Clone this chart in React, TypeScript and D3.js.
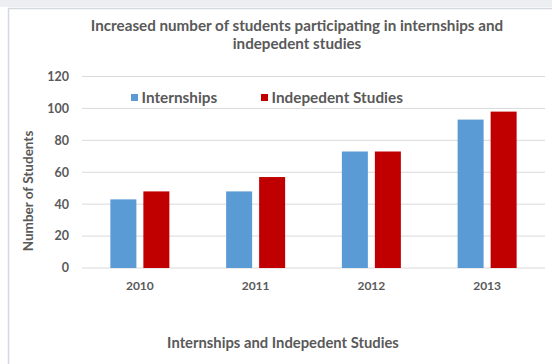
import React from "react";
import * as d3 from "d3";

const categories = ["2010", "2011", "2012", "2013"];
const internships = [43, 48, 73, 93];
const independent = [48, 57, 73, 98];
const seriesNames = ["Internships", "Indepedent Studies"];
const yTicks = [0, 20, 40, 60, 80, 100, 120];
const titleLines = [
  "Increased number of students participating in internships and",
  "indepedent studies",
];
const xTitle = "Internships and Indepedent Studies";
const yTitle = "Number of Students";

const W = 552;
const H = 364;
const colors = ["#5B9BD5", "#C00000"];
const font = "Lato, 'Open Sans', sans-serif";
const textColor = "#595959";

export default function App() {
  const plot = { left: 82, right: 545, top: 76.5, bottom: 268 };
  const x = d3.scaleBand().domain(categories).range([plot.left, plot.right]);
  const y = d3.scaleLinear().domain([0, 120]).range([plot.bottom, plot.top]);
  const barW = 26;
  const gap = 7;
  const series = [internships, independent];

  return (
    <svg
      width={W}
      height={H}
      style={{ position: "absolute", left: 0, top: 0, background: "#fff" }}
      fontFamily={font}
    >
      <rect x={0} y={0} width={W} height={H} fill="#fff" />
      <rect x={0} y={0} width={W} height={7} fill="#eceef2" />
      <rect x={8.5} y={8.5} width={W + 10} height={H + 10} fill="none" stroke="#d4d8e0" strokeWidth={1.5} />
      {titleLines.map((t, i) => (
        <text
          key={i}
          x={297}
          y={30.5 + i * 18.5}
          textAnchor="middle"
          fontSize={15.2}
          fontWeight="bold"
          fill={textColor}
        >
          {t}
        </text>
      ))}
      {yTicks.map((t) => (
        <g key={t}>
          <line x1={plot.left} x2={plot.right} y1={y(t)} y2={y(t)} stroke="#d9d9d9" strokeWidth={1} />
          <text x={69} y={y(t)} dy="0.35em" textAnchor="end" fontSize={12.5} fontWeight="bold" fill={textColor}>
            {t}
          </text>
        </g>
      ))}
      {categories.map((c, i) => {
        const cx = (x(c) as number) + x.bandwidth() / 2;
        return (
          <g key={c}>
            {series.map((s, j) => {
              const bx = j === 0 ? cx - gap / 2 - barW : cx + gap / 2;
              return (
                <rect
                  key={j}
                  x={bx}
                  y={y(s[i])}
                  width={barW}
                  height={y(0) - y(s[i])}
                  fill={colors[j]}
                />
              );
            })}
            <text x={cx} y={289.5} textAnchor="middle" fontSize={12} fontWeight="bold" fill={textColor}>
              {c}
            </text>
          </g>
        );
      })}
      {/* legend */}
      {seriesNames.map((n, j) => {
        const lx = j === 0 ? 131 : 261;
        return (
          <g key={n}>
            <rect x={lx} y={94} width={7} height={7} fill={colors[j]} />
            <text x={lx + 10.5} y={102.5} fontSize={15.3} fontWeight="bold" fill={textColor}>
              {n}
            </text>
          </g>
        );
      })}
      <text x={283} y={348} textAnchor="middle" fontSize={14.8} fontWeight="bold" fill={textColor}>
        {xTitle}
      </text>
      <text
        transform={`translate(28,191) rotate(-90)`}
        dy="0.35em"
        textAnchor="middle"
        fontSize={13.5}
        fontWeight="bold"
        fill={textColor}
      >
        {yTitle}
      </text>
    </svg>
  );
}
